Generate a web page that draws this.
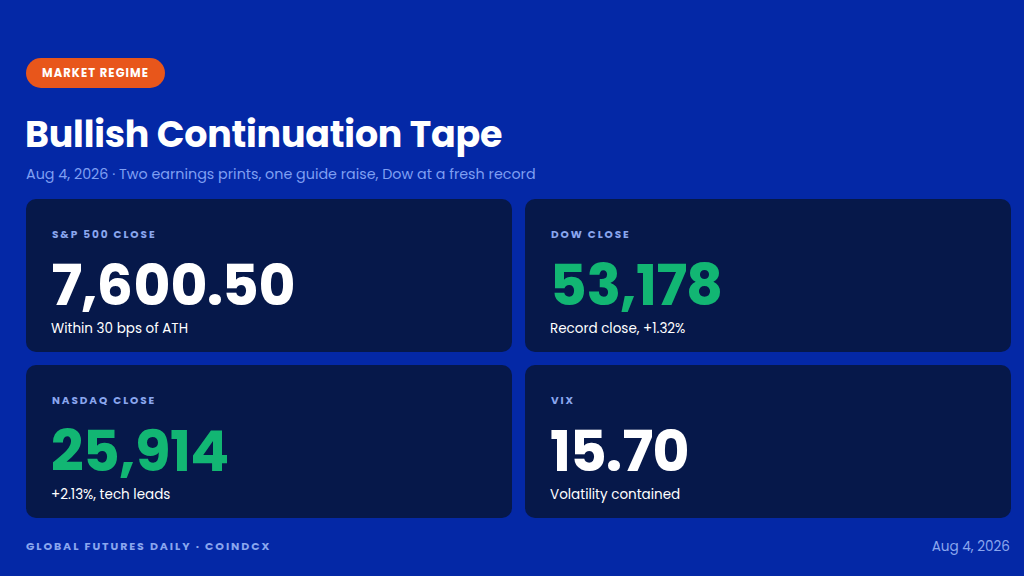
<!DOCTYPE html>
<html><head><meta charset="utf-8">
<script src="https://cdn.jsdelivr.net/npm/chart.js@4.4.1/dist/chart.umd.min.js"></script>
<style>
@font-face{font-family:"PopNum";src:local("Poppins Bold"),local("Poppins-Bold");font-weight:700;ascent-override:75%;descent-override:5%;line-gap-override:0%;}
html,body{margin:0;padding:0;}
body{width:1024px;height:576px;background:#0428a6;font-family:"Poppins",Inter,"Open Sans",sans-serif;color:#fff;position:relative;overflow:hidden;}
.pill{position:absolute;left:26px;top:58px;width:139px;height:30px;border-radius:15px;background:#e8561b;font-size:11.5px;font-weight:700;letter-spacing:1.1px;display:flex;align-items:center;justify-content:center;}
h1{position:absolute;left:25px;top:109px;margin:0;font-size:36.4px;font-weight:700;letter-spacing:-0.2px;line-height:52px;}
.sub{position:absolute;left:26px;top:164px;font-size:14.3px;color:#7f9ff2;}
.card{position:absolute;width:486px;height:153px;background:#06184a;border-radius:10px;}
.lab{position:absolute;left:26px;top:28px;font-size:10.5px;font-weight:700;letter-spacing:1.9px;color:#8aa6ee;}
.val{position:absolute;left:25px;top:56px;font-family:"PopNum","Poppins",sans-serif;font-size:57px;font-weight:700;line-height:60px;letter-spacing:-0.8px;}
.note{position:absolute;left:25px;top:121px;font-size:13.5px;line-height:18px;color:#fff;}
.foot{position:absolute;left:26px;top:538px;font-size:11px;font-weight:700;letter-spacing:1.9px;color:#8aa6ee;}
.date{position:absolute;right:14px;top:537px;font-size:13.6px;color:#8aa6ee;}
</style></head>
<body>
<div class="pill" id="pill"></div>
<h1 id="title"></h1>
<div class="sub" id="sub"></div>
<div id="cards"></div>
<div class="foot" id="foot"></div>
<div class="date" id="date"></div>
<script>
const badge = "MARKET REGIME";
const titleText = "Bullish Continuation Tape";
const subtitle = "Aug 4, 2026 · Two earnings prints, one guide raise, Dow at a fresh record";
const labels = ["S&P 500 CLOSE","DOW CLOSE","NASDAQ CLOSE","VIX"];
const values = ["7,600.50","53,178","25,914","15.70"];
const notes = ["Within 30 bps of ATH","Record close, +1.32%","+2.13%, tech leads","Volatility contained"];
const positive = [false,true,true,false];
const footer = "GLOBAL FUTURES DAILY · COINDCX";
const footDate = "Aug 4, 2026";

document.getElementById('pill').textContent = badge;
document.getElementById('title').textContent = titleText;
document.getElementById('sub').textContent = subtitle;
document.getElementById('foot').textContent = footer;
document.getElementById('date').textContent = footDate;
const pos = [[26,199],[525,199],[26,365],[525,365]];
const wrap = document.getElementById('cards');
labels.forEach((l,i)=>{
  const c = document.createElement('div');
  c.className='card';
  c.style.left=pos[i][0]+'px'; c.style.top=pos[i][1]+'px';
  c.innerHTML = '<div class="lab"></div><div class="val"></div><div class="note"></div>';
  c.querySelector('.lab').textContent=l;
  const v=c.querySelector('.val'); v.textContent=values[i]; v.style.color=positive[i]?'#12b673':'#ffffff';
  c.querySelector('.note').textContent=notes[i];
  wrap.appendChild(c);
});
</script>
</body></html>
